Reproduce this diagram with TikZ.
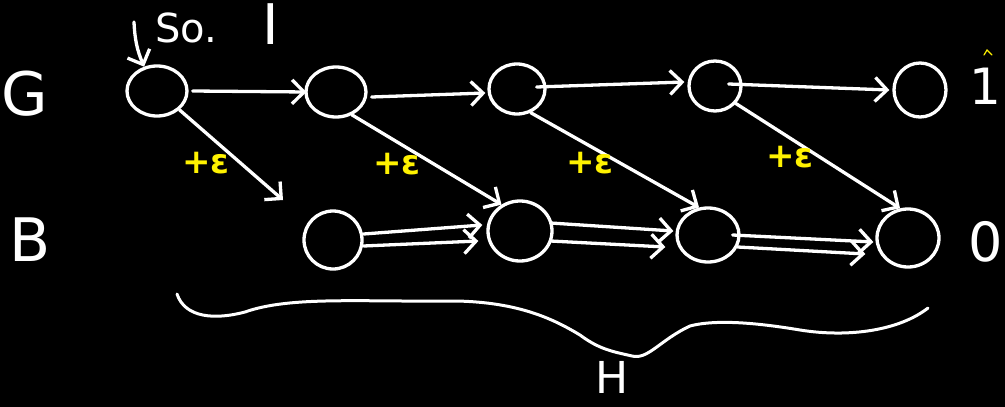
\documentclass[tikz,border=0pt]{standalone}
\usepackage{fontspec}
\setmainfont{DejaVu Sans}
\usetikzlibrary{arrows.meta,shapes.geometric}
\begin{document}
\begin{tikzpicture}[x=1pt,y=-1pt,
  st/.style={ellipse,draw=white,line width=3.3pt,minimum width=60pt,minimum height=50pt,inner sep=0pt},
  ar/.style={draw=white,line width=3.3pt,line cap=round,-{Straight Barb[length=12pt,width=24pt,line width=3.3pt]}},
  lab/.style={text=white,inner sep=0pt,font=\fontsize{60}{62}\selectfont},
  eps/.style={text=yellow,inner sep=0pt,font=\fontsize{34}{36}\selectfont\bfseries}]
\fill[black] (0,0) rectangle (1005,407);
\useasboundingbox (0,0) rectangle (1005,407);
% G row
\node[st] (g0) at (157,91) {};
\node[st] (g1) at (336,92) {};
\node[st,minimum width=56pt] (g2) at (517,89) {};
\node[st,minimum width=52pt] (g3) at (715,86) {};
\node[st,minimum width=52pt,minimum height=54pt] (g4) at (920,90) {};
% B row
\node[st,minimum width=58pt,minimum height=58pt] (b1) at (333,240) {};
\node[st,minimum width=64pt,minimum height=60pt] (b2) at (520,231) {};
\node[st,minimum width=62pt,minimum height=54pt] (b3) at (708,235) {};
\node[st,minimum width=62pt,minimum height=58pt] (b4) at (908,238) {};
% labels
\node[lab] (lG) at (25,94) {G};
\node[lab] (lB) at (30,240) {B};
\node[lab,anchor=east,font=\fontsize{50}{52}\selectfont] (l1) at (1002,86) {1};
\node[lab,anchor=east,font=\fontsize{54}{56}\selectfont] (l0) at (1003,242) {0};
\node[lab,anchor=north,font=\fontsize{56}{58}\selectfont] (lI) at (271,3) {I};
\node[lab,font=\fontsize{40}{42}\selectfont] (so) at (186,28) {So.};
\node[lab,anchor=base,font=\fontsize{44}{46}\selectfont] (lH) at (612,393) {H};
% tiny yellow mark
\draw[yellow,line width=1.2pt,line cap=round] (984,55) -- (987,50) -- (992,55);
% start arrow
\coordinate (s0) at (134,22);
\draw[ar] (s0) to[bend right=10] (g0.118);
% G arrows
\draw[ar] ([xshift=4pt]g0.east) -- ([xshift=2pt]g1.west);
\draw[ar] ([xshift=4pt,yshift=-5pt]g1.east) -- ([xshift=-2pt,yshift=-4pt]g2.west);
\draw[ar] ([xshift=-10pt,yshift=2pt]g2.east) -- ([xshift=-3pt,yshift=4pt]g3.west);
\draw[ar] ([xshift=-14pt,yshift=2pt]g3.east) -- ([xshift=-3pt]g4.west);
% diagonals
\coordinate (d0) at (283,200);
\draw[ar] (g0.-40) -- (d0);
\draw[ar] (g1.-55) -- (b2.125);
\draw[ar] (g2.-60) -- (b3.108);
\draw[ar] (g3.-40) -- (b4.105);
% epsilon labels
\node[eps] (e1) at (206,163) {+ε};
\node[eps] (e2) at (397,164) {+ε};
\node[eps] (e3) at (590,163) {+ε};
\node[eps] (e4) at (790,157) {+ε};
% B double arrows
\draw[ar] ([yshift=-6pt]b1.east) -- ([yshift=-10pt,xshift=-8pt]b2.west);
\draw[ar] ([yshift=6pt]b1.east) -- ([yshift=6pt,xshift=-4pt]b2.west);
\draw[ar] ([yshift=-10pt,xshift=-3pt]b2.east) -- ([yshift=-12pt,xshift=-10pt]b3.west);
\draw[ar] ([yshift=8pt,xshift=-3pt]b2.east) -- ([yshift=4pt,xshift=-2pt]b3.west);
\draw[ar] ([yshift=-12pt,xshift=-3pt]b3.east) -- ([yshift=-16pt,xshift=-10pt]b4.west);
\draw[ar] ([yshift=0pt,xshift=-8pt]b3.east) -- ([yshift=-4pt,xshift=-2pt]b4.west);
% brace
\draw[white,line width=3pt,line cap=round] (177,294) .. controls (185,318) and (215,320) .. (245,312)
  .. controls (290,296) and (360,302) .. (455,301)
  .. controls (520,302) and (555,320) .. (580,335)
  .. controls (600,350) and (615,352) .. (632,356)
  .. controls (648,360) and (660,340) .. (690,326)
  .. controls (720,318) and (770,325) .. (800,330)
  .. controls (850,338) and (900,330) .. (928,308);
\end{tikzpicture}
\end{document}
